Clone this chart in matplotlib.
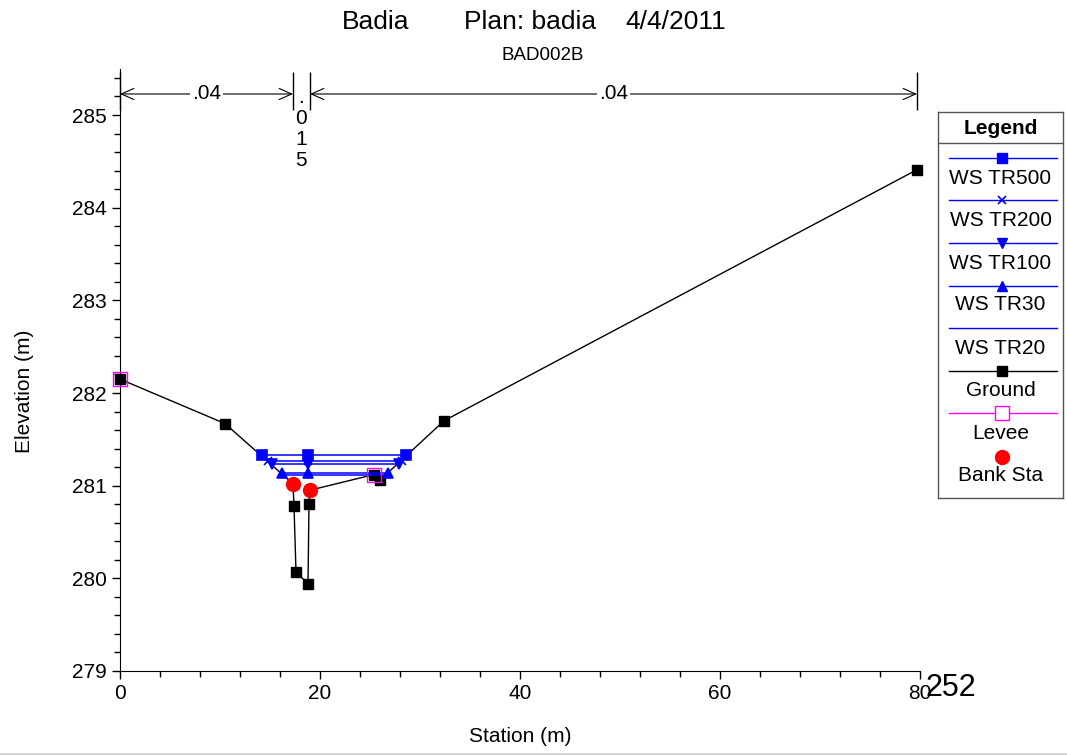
import matplotlib

matplotlib.use("Agg")
import matplotlib.pyplot as plt
from matplotlib.lines import Line2D
from matplotlib.ticker import MultipleLocator

plt.rcParams["font.family"] = ["Liberation Sans", "DejaVu Sans"]

# ground profile
ground_sta = [0.0, 10.5, 17.3, 17.4, 17.6, 18.8, 18.9, 18.95, 25.4, 26.0, 32.4, 79.7]
ground_elev = [282.15, 281.67, 281.02, 280.78, 280.07, 279.94, 280.80, 280.95, 281.12, 281.06, 281.70, 284.41]

levee_sta = [0.0, 25.4]
levee_elev = [282.15, 281.12]

bank_sta = [17.3, 18.95]
bank_elev = [281.02, 280.95]

# water surfaces
ws_names = ["WS TR500", "WS TR200", "WS TR100", "WS TR30", "WS TR20"]
ws_elev = [281.327, 281.262, 281.232, 281.134, 281.115]
ws_left = [14.2, 14.75, 15.2, 16.15, 16.3]
ws_mid = [18.8, 18.8, 18.8, 18.8, 18.8]
ws_right = [28.6, 28.15, 27.9, 26.77, 26.55]
ws_markers = ["s", "x", "v", "^", None]

# manning's n
n_sta = [0.0, 17.3, 19.0, 79.7]
n_vals = [".04", ".015", ".04"]

W, H = 1067, 755
fig = plt.figure(figsize=(W / 100, H / 100), dpi=100)
ax = fig.add_axes([120 / W, 1 - 671 / H, 800 / W, (671 - 68.7) / H])

blue = "#0000ff"
for name, e, l, m, r, mk in zip(ws_names, ws_elev, ws_left, ws_mid, ws_right, ws_markers):
    ax.plot([l, r], [e, e], color=blue, lw=1.1, zorder=3)
    if mk:
        ax.plot([l, m, r], [e, e, e], linestyle="none", marker=mk, color=blue,
                ms=7 if mk != "x" else 6, mew=1.2, zorder=3)

ax.plot(ground_sta, ground_elev, color="black", lw=1.0, marker="s", ms=6.5,
        zorder=2, clip_on=False)
ax.plot(levee_sta, levee_elev, linestyle="none", marker="s", ms=10, mfc="none",
        mec="#ff00ff", mew=1.0, zorder=4, clip_on=False)
ax.plot(bank_sta, bank_elev, linestyle="none", marker="o", ms=10, color="red", zorder=5)

ax.set_xlim(0, 80)
ax.set_ylim(279, 285.5)
ax.set_xticks([0, 20, 40, 60, 80])
ax.set_yticks([279, 280, 281, 282, 283, 284, 285])
ax.xaxis.set_minor_locator(MultipleLocator(4))
ax.yaxis.set_minor_locator(MultipleLocator(0.2))
ax.tick_params(which="major", direction="out", length=6, width=1, labelsize=15)
ax.tick_params(which="minor", direction="out", length=4, width=1)
for s in ["top", "right"]:
    ax.spines[s].set_visible(False)
ax.patch.set_alpha(0)

# n value annotations
y_arrow = 285.227
ax.vlines(n_sta, 285.05, 285.46, color="black", lw=1.0, clip_on=False)
for a, b, v in zip(n_sta[:-1], n_sta[1:], n_vals):
    mid = (a + b) / 2
    if b - a > 5:
        ax.annotate("", xy=(a, y_arrow), xytext=(b, y_arrow),
                    arrowprops=dict(arrowstyle="<->,head_length=0.45,head_width=0.2",
                                    mutation_scale=20, lw=0.8, shrinkA=0, shrinkB=0),
                    annotation_clip=False)
        ax.text(mid, y_arrow, v, ha="center", va="center", fontsize=15,
                bbox=dict(facecolor="white", edgecolor="none", pad=1.5), zorder=6)
    else:
        ax.text(mid - 0.05, 285.29, "\n".join(v), ha="center", va="top", fontsize=15,
                linespacing=1.12)

# titles and labels
fig.text(376 / W, 1 - 22 / H, "Badia", ha="center", va="center", fontsize=19)
fig.text(530 / W, 1 - 22 / H, "Plan: badia", ha="center", va="center", fontsize=19)
fig.text(676 / W, 1 - 22 / H, "4/4/2011", ha="center", va="center", fontsize=19)
fig.text(543 / W, 1 - 55 / H, "BAD002B", ha="center", va="center", fontsize=13.5)
fig.text(520 / W, 1 - 737 / H, "Station (m)", ha="center", va="center", fontsize=15)
fig.text(25 / W, 1 - 391 / H, "Elevation (m)", ha="center", va="center",
         rotation=90, fontsize=15)
fig.text(951 / W, 1 - 688 / H, "252", ha="center", va="center", fontsize=22)
fig.add_artist(Line2D([0, 1], [1.5 / H, 1.5 / H], color="#c8c8c8", lw=1.2))

# legend box
lg = fig.add_axes([938 / W, 1 - 498 / H, 125 / W, 386 / H])
lg.set_xlim(0, 125)
lg.set_ylim(386, 0)
lg.set_xticks([])
lg.set_yticks([])
for s in lg.spines.values():
    s.set_color("#555555")
    s.set_linewidth(1.0)
lg.text(62.5, 16, "Legend", ha="center", va="center", fontsize=15, fontweight="bold")
lg.axhline(31, color="#555555", lw=1.0)

leg_line_y = [45.7, 88, 130.7, 173.7, 216, 259, 301, 344.7]
leg_text_y = [64.7, 106, 149.7, 191, 234.7, 277, 319.7, 362]
leg_labels = ws_names + ["Ground", "Levee", "Bank Sta"]
leg_styles = [
    dict(color=blue, marker="s", ms=7),
    dict(color=blue, marker="x", ms=6, mew=1.2),
    dict(color=blue, marker="v", ms=7),
    dict(color=blue, marker="^", ms=7),
    dict(color=blue, marker=None),
    dict(color="black", marker="s", ms=6.5),
    dict(color="#ff00ff", marker="s", ms=10, mfc="white", mec="#ff00ff"),
    dict(color="red", marker="o", ms=10, linestyle="none"),
]
for ly, ty, lab, st in zip(leg_line_y, leg_text_y, leg_labels, leg_styles):
    st = dict(st)
    ls = st.pop("linestyle", "-")
    mk = st.pop("marker")
    lg.plot([11, 119], [ly, ly], linestyle=ls, lw=1.0, color=st["color"])
    if mk:
        lg.plot([64], [ly], linestyle="none", marker=mk, **st)
    lg.text(62.5, ty + 7.5, lab, ha="center", va="baseline", fontsize=15)

fig.savefig("out.png", dpi=100)
